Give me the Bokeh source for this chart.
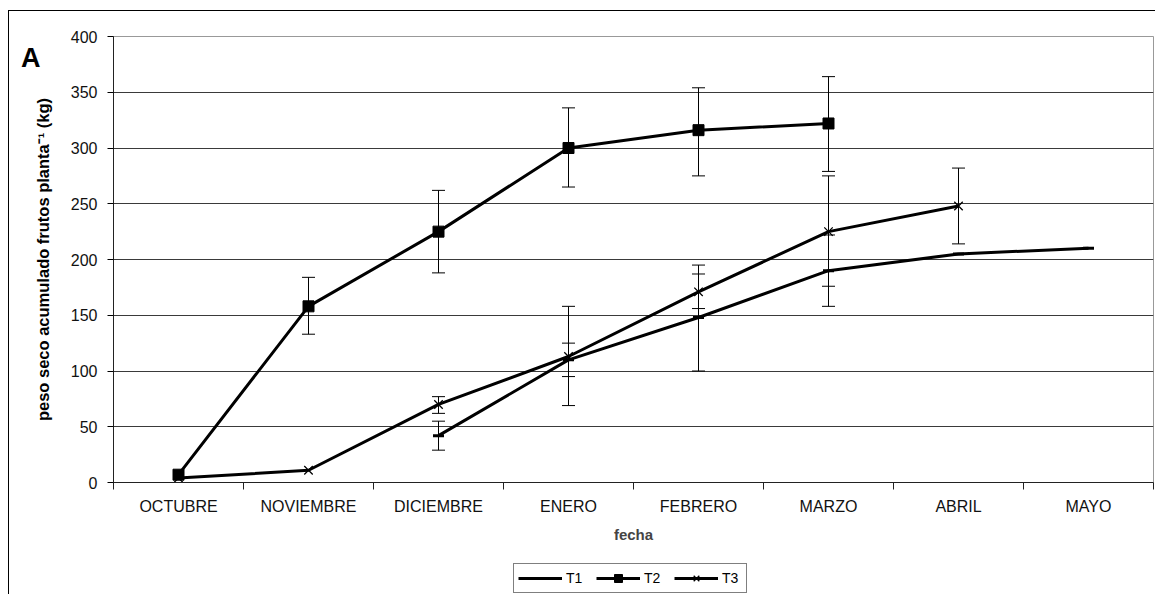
from bokeh.embed import file_html
from bokeh.layouts import column
from bokeh.models import (ColumnDataSource, FixedTicker, Legend, LegendItem,
                          LinearAxis, Range1d, TeeHead, Whisker)
from bokeh.plotting import figure
from bokeh.resources import INLINE

# ---- data -------------------------------------------------------------
months = ["OCTUBRE", "NOVIEMBRE", "DICIEMBRE", "ENERO",
          "FEBRERO", "MARZO", "ABRIL", "MAYO"]

t1_vals = [None, None, 42, 110, 148, 190, 205, 210]
t1_low = [None, None, 29, 95, 100, 158, None, None]
t1_high = [None, None, 55, 125, 195, 222, None, None]

t2_vals = [7, 158, 225, 300, 316, 322, None, None]
t2_low = [None, 133, 188, 265, 275, 279, None, None]
t2_high = [None, 184, 262, 336, 354, 364, None, None]

t3_vals = [4, 11, 70, 113, 171, 225, 248, None]
t3_low = [None, None, 62, 69, 156, 176, 214, None]
t3_high = [None, None, 77, 158, 187, 275, 282, None]

y_ticks = [0, 50, 100, 150, 200, 250, 300, 350, 400]
y_title = "peso seco acumulado frutos planta\u207b\u00b9 (kg)"
panel_letter = "A"

FONT = "Liberation Sans"


def series_source(vals):
    xs = [i + 0.5 for i, v in enumerate(vals) if v is not None]
    ys = [v for v in vals if v is not None]
    return ColumnDataSource(dict(x=xs, y=ys))


def error_source(lows, highs):
    xs, lo, hi = [], [], []
    for i, (a, b) in enumerate(zip(lows, highs)):
        if a is not None and b is not None:
            xs.append(i + 0.5)
            lo.append(a)
            hi.append(b)
    return ColumnDataSource(dict(x=xs, lower=lo, upper=hi))


# ---- main chart -------------------------------------------------------
p = figure(width=1146, height=549, output_backend="svg", toolbar_location=None,
           x_range=Range1d(0, len(months)), y_range=Range1d(0, 400),
           min_border_left=104, min_border_right=2,
           min_border_top=25, min_border_bottom=78)

p.background_fill_color = "white"
p.border_fill_color = "white"
p.outline_line_color = "#999999"
p.outline_line_width = 1

# y axis
p.yaxis.ticker = FixedTicker(ticks=y_ticks)
p.yaxis.axis_line_color = "#222222"
p.yaxis.major_tick_out = 6
p.yaxis.major_tick_in = 0
p.yaxis.minor_tick_line_color = None
p.yaxis.major_label_standoff = 10
p.yaxis.major_label_text_font = FONT
p.yaxis.major_label_text_font_size = "16px"
p.yaxis.major_label_text_color = "#111111"
p.yaxis.axis_label = y_title
p.yaxis.axis_label_text_font = FONT
p.yaxis.axis_label_text_font_style = "bold"
p.yaxis.axis_label_text_font_size = "16.5px"
p.yaxis.axis_label_text_color = "black"
p.yaxis.axis_label_standoff = 16

# panel letter, carried by an unlined outer axis on the left
letter_axis = LinearAxis(ticker=FixedTicker(ticks=[381]),
                         major_label_overrides={381: panel_letter},
                         axis_line_color=None, major_tick_line_color=None,
                         minor_tick_line_color=None, major_tick_out=0,
                         major_tick_in=0, major_label_standoff=-10,
                         major_label_text_font=FONT,
                         major_label_text_font_style="bold",
                         major_label_text_font_size="27px",
                         major_label_text_color="black")
p.add_layout(letter_axis, "left")

# x axis: boundaries as (minor) tick marks, month names centred between them
p.xaxis.ticker = FixedTicker(ticks=[i + 0.5 for i in range(len(months))],
                             minor_ticks=list(range(len(months) + 1)))
p.xaxis.major_label_overrides = {i + 0.5: m for i, m in enumerate(months)}
p.xaxis.axis_line_color = "#222222"
p.xaxis.major_tick_out = 0
p.xaxis.major_tick_in = 0
p.xaxis.minor_tick_out = 7
p.xaxis.minor_tick_in = 0
p.xaxis.minor_tick_line_color = "#222222"
p.xaxis.major_label_standoff = 8
p.xaxis.major_label_text_font = FONT
p.xaxis.major_label_text_font_size = "16px"
p.xaxis.major_label_text_color = "#111111"
p.xaxis.axis_label = "fecha"
p.xaxis.axis_label_text_font = FONT
p.xaxis.axis_label_text_font_style = "bold"
p.xaxis.axis_label_text_font_size = "15px"
p.xaxis.axis_label_standoff = 8

p.xgrid.grid_line_color = None
p.ygrid.grid_line_color = "#3a3a3a"
p.ygrid.grid_line_width = 1

# ---- series -----------------------------------------------------------
s1, s2, s3 = series_source(t1_vals), series_source(t2_vals), series_source(t3_vals)

for lows, highs in ((t1_low, t1_high), (t2_low, t2_high), (t3_low, t3_high)):
    w = Whisker(source=error_source(lows, highs), base="x", lower="lower", upper="upper",
                dimension="height", line_color="black", line_width=1,
                upper_head=TeeHead(size=13, line_color="black", line_width=1),
                lower_head=TeeHead(size=13, line_color="black", line_width=1))
    p.add_layout(w)

LINE = dict(line_color="black", line_width=3)
MARK = {"T1": dict(marker="dash", size=11, line_color="black", line_width=3),
        "T2": dict(marker="square", size=11, fill_color="black", line_color="black"),
        "T3": dict(marker="x", size=12, line_color="black", line_width=1.3)}

for name, src in (("T1", s1), ("T2", s2), ("T3", s3)):
    p.line("x", "y", source=src, **LINE)
    p.scatter("x", "y", source=src, **MARK[name])

# ---- legend strip underneath ------------------------------------------
key = figure(width=1146, height=34, output_backend="svg", toolbar_location=None,
             x_range=Range1d(0, 1), y_range=Range1d(0, 1),
             x_axis_location=None, y_axis_location=None, min_border=0)
key.grid.grid_line_color = None
key.outline_line_color = None
key.background_fill_color = "white"
key.border_fill_color = "white"

items = []
for name in ("T1", "T2", "T3"):
    # a single undefined point: nothing drawn in the strip, only the key glyph
    blank = ColumnDataSource(dict(x=[float("nan")], y=[float("nan")]))
    ln = key.line("x", "y", source=blank, **LINE)
    mk = key.scatter("x", "y", source=blank, **MARK[name])
    items.append(LegendItem(label=name, renderers=[ln, mk]))

key.add_layout(Legend(items=items, orientation="horizontal", location=(400, 1),
                      border_line_color="black", border_line_width=1,
                      background_fill_color="white", background_fill_alpha=1,
                      padding=4, spacing=10, margin=0,
                      glyph_width=44, glyph_height=20, label_standoff=4,
                      label_text_font=FONT, label_text_font_size="14px",
                      label_text_color="black"))

page = column(p, key, spacing=0)
page.margin = (10, 0, 0, 8)
page.styles = {"border-left": "1px solid #000", "border-top": "1px solid #000"}

open("out.html", "w").write(file_html(page, INLINE))
